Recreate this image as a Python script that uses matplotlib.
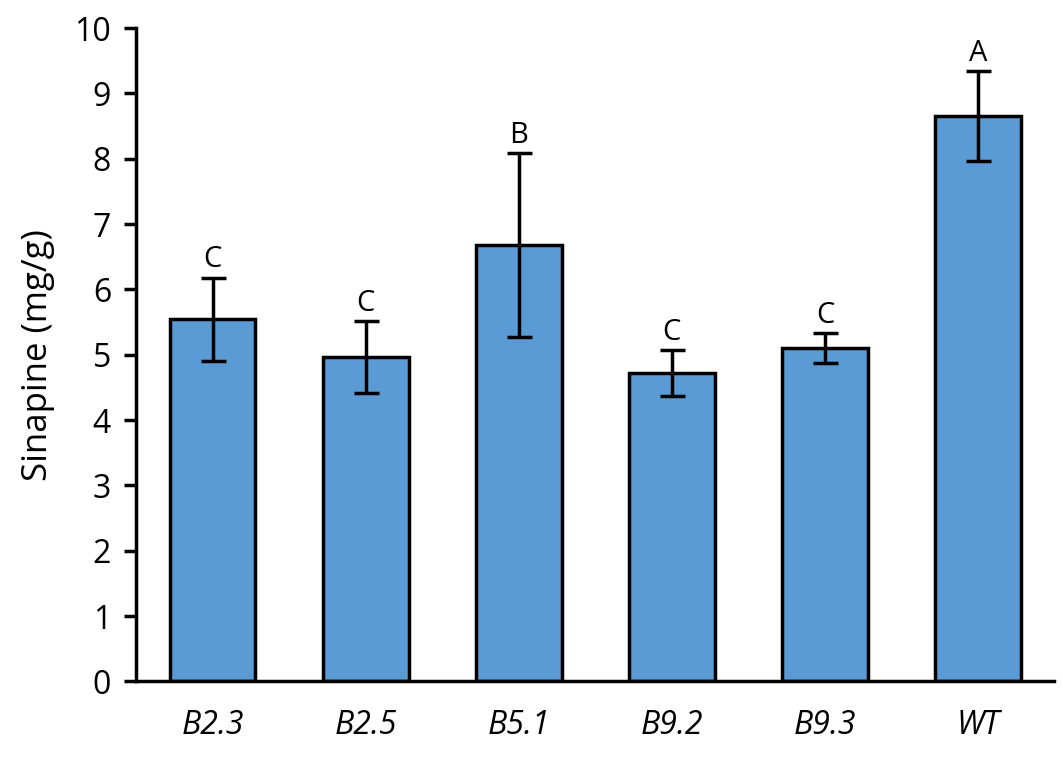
import numpy as np
import matplotlib.pyplot as plt

# data
lines = ['B2.3', 'B2.5', 'B5.1', 'B9.2', 'B9.3', 'WT']
sinapine = [5.54, 4.97, 6.68, 4.72, 5.10, 8.65]
erro = [0.64, 0.55, 1.41, 0.35, 0.23, 0.69]
letras = ['C', 'C', 'B', 'C', 'C', 'A']

plt.rcParams['font.family'] = ['Open Sans', 'DejaVu Sans']

fig = plt.figure(figsize=(10.63, 7.58), dpi=100)
ax = fig.add_axes([0.128, 0.101, 0.864, 0.862])

x = np.arange(len(lines))
ax.bar(x, sinapine, width=0.56, color='#5B9BD5', edgecolor='black', linewidth=2.5, zorder=2)
ax.errorbar(x, sinapine, yerr=erro, fmt='none', ecolor='black', elinewidth=2.5,
            capsize=9, capthick=2.5, zorder=3)

for xi, v, e, l in zip(x, sinapine, erro, letras):
    ax.text(xi, v + e + 0.05, l, ha='center', va='bottom', fontsize=21)

ax.set_xlim(-0.5, len(lines) - 0.5)
ax.set_ylim(0, 10)
ax.set_yticks(range(0, 11))
ax.set_xticks(x)
ax.set_xticklabels(lines, fontstyle='italic')
ax.tick_params(axis='y', labelsize=23, width=2.5, length=9, direction='out', pad=9)
ax.tick_params(axis='x', labelsize=23, length=0, pad=20)
ax.set_ylabel('Sinapine (mg/g)', fontsize=25, labelpad=14)

for s in ['top', 'right']:
    ax.spines[s].set_visible(False)
for s in ['left', 'bottom']:
    ax.spines[s].set_linewidth(2.5)

plt.savefig('out.png', dpi=100)
